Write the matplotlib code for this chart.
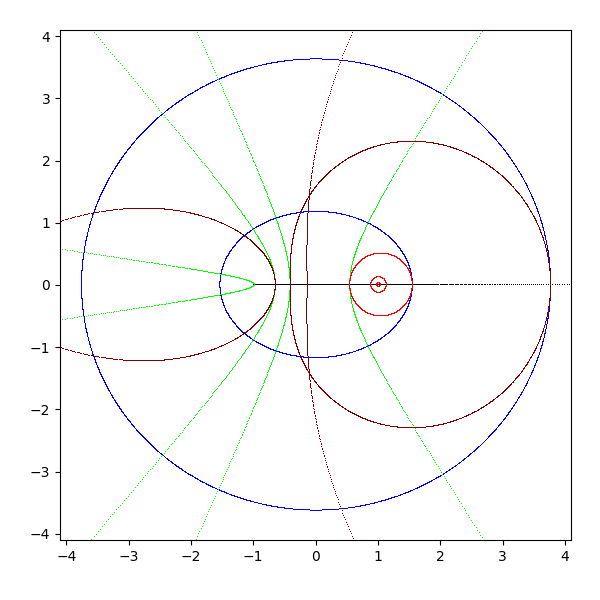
import numpy as np
import matplotlib
matplotlib.use("Agg")
import matplotlib.pyplot as plt

# Grid in the w-plane mapped through z = cosh(w)
re_levels = [1, 2, 3, 4]          # lines Re(w) = c  -> confocal ellipses (blue)
im_levels = [1, 2, 3, 4]          # lines Im(w) = c  -> confocal hyperbolas (green)
axis_levels = [0]                 # Re(w)=0 and Im(w)=0 (black)
radii_small = [0.25, 0.5, 1.0]    # circles |w| = r (red)
radii_large = [2.0, 4.0, 8.0]     # circles |w| = r (dark red)
w_range = [-4.0, 4.0]
tick_vals = [-4, -3, -2, -1, 0, 1, 2, 3, 4]
lims = [-4.1, 4.1]

col_axis = "black"
col_re = "#0000ff"
col_im = "#00ff00"
col_small = "#ff0000"
col_large = "#800000"

fig = plt.figure(figsize=(6, 6), dpi=100)
ax = fig.add_axes([0.1, 0.1, 0.852, 0.85])

t = np.linspace(w_range[0], w_range[1], 801)
t_fine = np.linspace(w_range[0], w_range[1], 4001)
theta = np.linspace(0, 2 * np.pi, 5001)


def draw(w, color):
    z = np.cosh(w)
    ax.plot(z.real, z.imag, ",", color=color, linestyle="none")


for c in axis_levels:
    draw(c + 1j * t, col_axis)
    draw(t + 1j * c, col_axis)
for c in re_levels:
    draw(c + 1j * t_fine, col_re)
for c in im_levels:
    draw(t + 1j * c, col_im)
for r in radii_small:
    draw(r * np.exp(1j * theta), col_small)
for r in radii_large:
    draw(r * np.exp(1j * theta), col_large)

ax.set_xlim(lims)
ax.set_ylim(lims)
ax.set_xticks(tick_vals)
ax.set_yticks(tick_vals)
fig.savefig("out.png", dpi=100)
